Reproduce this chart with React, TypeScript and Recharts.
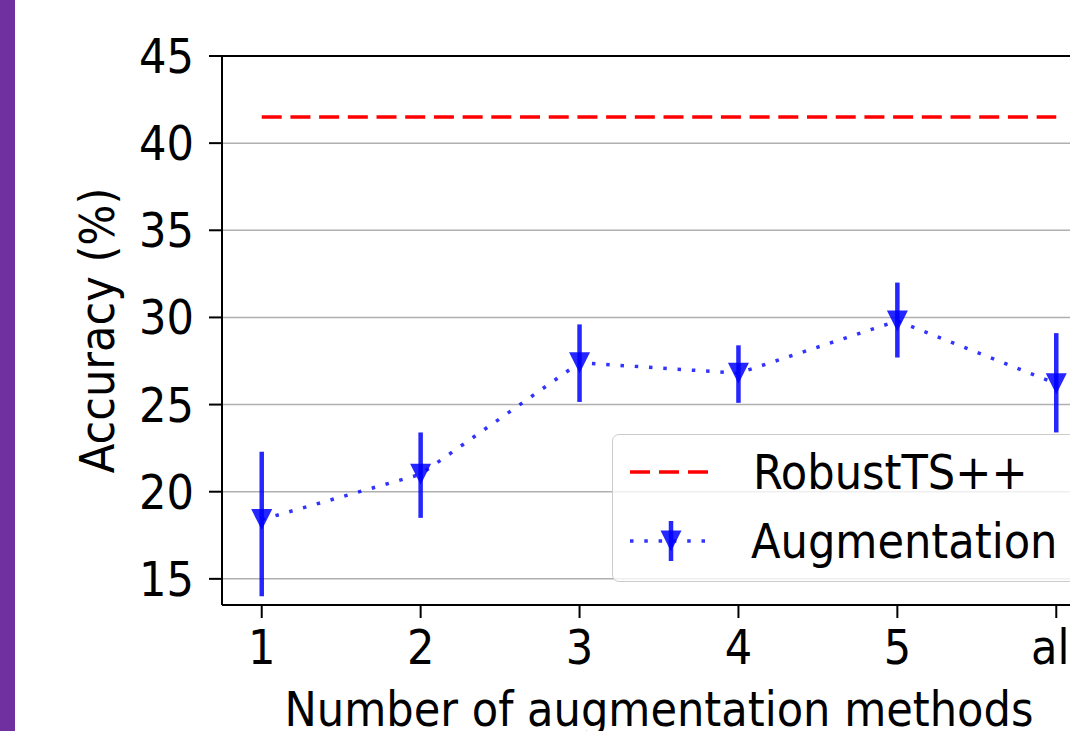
import React from "react";
import {
  ComposedChart,
  Line,
  XAxis,
  YAxis,
  CartesianGrid,
  ErrorBar,
  ReferenceLine,
} from "recharts";

// values
const categories = ["1", "2", "3", "4", "5", "all"];
const augMean = [18.4, 21.0, 27.4, 26.8, 29.8, 26.2];
const augLow = [14.0, 18.5, 25.15, 25.1, 27.7, 23.4];
const augHigh = [22.3, 23.4, 29.6, 28.4, 32.0, 29.1];
const robustValue = 41.5;
const yTicks = [15, 20, 25, 30, 35, 40, 45];
const xTicks = [0, 1, 2, 3, 4, 5];
const seriesNames = ["RobustTS++", "Augmentation"];

const FONT = "'DejaVu Sans Condensed', 'DejaVu Sans', sans-serif";
const FS = 48;
const BLUE = "#0000ff";
const RED = "#ff0000";

const data = categories.map((c, i) => ({
  idx: i,
  label: c,
  aug: augMean[i],
  err: [augMean[i] - augLow[i], augHigh[i] - augMean[i]],
  robust: robustValue,
}));

const TriangleDot = (props: any) => {
  const { cx, cy } = props;
  if (cx == null || cy == null) return null;
  const s = 10.5;
  return (
    <polygon
      points={`${cx - s},${cy - s} ${cx + s},${cy - s} ${cx},${cy + s}`}
      fill={BLUE}
      fillOpacity={0.85}
    />
  );
};

// legend drawn as an overlay so it doesn't shrink the plot area
const LegendBox = () => (
  <div
    style={{
      position: "absolute",
      left: 612,
      top: 434,
      width: 480,
      height: 148,
      boxSizing: "border-box",
      border: "1.5px solid #cccccc",
      borderRadius: 7,
      background: "rgba(255,255,255,0.8)",
      fontFamily: FONT,
      fontSize: FS,
      color: "#000",
    }}
  >
    <svg width={100} height={148} style={{ position: "absolute", left: 0, top: 0 }}>
      <line x1={17} x2={95} y1={37} y2={37} stroke={RED} strokeWidth={3.5} strokeDasharray="20 9" />
      <line
        x1={17}
        x2={95}
        y1={106}
        y2={106}
        stroke={BLUE}
        strokeOpacity={0.8}
        strokeWidth={3.5}
        strokeDasharray="3.5 10.8"
      />
      <line x1={58} x2={58} y1={86} y2={126} stroke={BLUE} strokeOpacity={0.85} strokeWidth={4.5} />
      <polygon points="47.5,95.5 68.5,95.5 58,116.5" fill={BLUE} fillOpacity={0.85} />
    </svg>
    <div style={{ position: "absolute", left: 140, top: 37, transform: "translateY(-50%)", whiteSpace: "nowrap", lineHeight: 1 }}>
      {seriesNames[0]}
    </div>
    <div style={{ position: "absolute", left: 138, top: 106, transform: "translateY(-50%)", whiteSpace: "nowrap", lineHeight: 1 }}>
      {seriesNames[1]}
    </div>
  </div>
);

export default function App() {
  return (
    <div
      style={{
        position: "absolute",
        left: 0,
        top: 0,
        width: 1070,
        height: 731,
        overflow: "hidden",
        background: "#fff",
      }}
    >
      <div style={{ position: "absolute", left: 0, top: 0, width: 15, height: 731, background: "#7030a0" }} />
      <div style={{ position: "absolute", left: 0, top: 0 }}>
        <ComposedChart
          width={1130}
          height={731}
          data={data}
          margin={{ top: 56, right: 34, bottom: 0, left: 0 }}
          style={{ fontFamily: FONT }}
        >
          <CartesianGrid vertical={false} stroke="#b0b0b0" strokeWidth={1.5} />
          <XAxis
            dataKey="idx"
            type="number"
            domain={[-0.25, 5.25]}
            ticks={xTicks}
            tickFormatter={(v: number) => categories[v]}
            allowDataOverflow
            height={126}
            tickSize={13}
            tickMargin={12}
            axisLine={{ stroke: "#000", strokeWidth: 2 }}
            tickLine={{ stroke: "#000", strokeWidth: 2 }}
            tick={{ fontSize: FS, fill: "#000", fontFamily: FONT }}
            label={{
              content: (p: any) => {
                const vb = p.viewBox;
                return (
                  <text x={vb.x + vb.width / 2} y={726} textAnchor="middle" fontSize={FS} fontFamily={FONT} fill="#000">
                    Number of augmentation methods
                  </text>
                );
              },
            }}
          />
          <YAxis
            type="number"
            domain={[13.5, 45]}
            ticks={yTicks}
            allowDataOverflow
            width={222}
            tickSize={13}
            tickMargin={15}
            axisLine={{ stroke: "#000", strokeWidth: 2 }}
            tickLine={{ stroke: "#000", strokeWidth: 2 }}
            tick={{ fontSize: FS, fill: "#000", fontFamily: FONT }}
            label={{
              content: (p: any) => {
                const vb = p.viewBox;
                return (
                  <text
                    transform={`translate(114, ${vb.y + vb.height / 2}) rotate(-90)`}
                    textAnchor="middle"
                    fontSize={FS}
                    fontFamily={FONT}
                    fill="#000"
                  >
                    Accuracy (%)
                  </text>
                );
              },
            }}
          />
          <ReferenceLine y={45} stroke="#000" strokeWidth={2} />
          <Line
            type="linear"
            dataKey="robust"
            name={seriesNames[0]}
            stroke={RED}
            strokeWidth={3.5}
            strokeDasharray="20 8.7"
            dot={false}
            activeDot={false}
            isAnimationActive={false}
          />
          <Line
            type="linear"
            dataKey="aug"
            name={seriesNames[1]}
            stroke={BLUE}
            strokeOpacity={0.8}
            strokeWidth={3.5}
            strokeDasharray="3.5 10.8"
            dot={<TriangleDot />}
            activeDot={false}
            isAnimationActive={false}
          >
            <ErrorBar dataKey="err" direction="y" width={0} stroke={BLUE} strokeOpacity={0.85} strokeWidth={4.5} />
          </Line>
        </ComposedChart>
      </div>
      <LegendBox />
    </div>
  );
}
